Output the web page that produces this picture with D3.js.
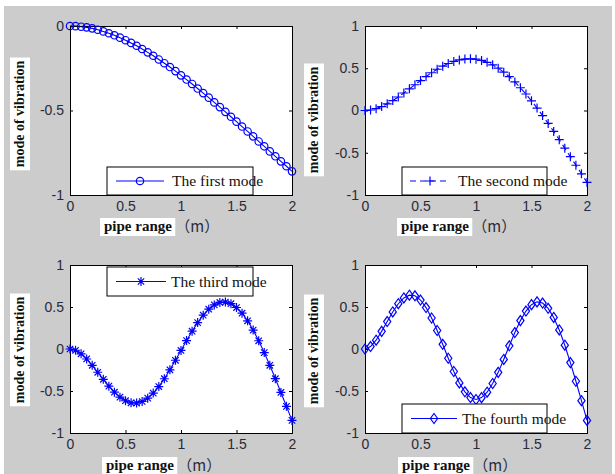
<!DOCTYPE html>
<html>
<head>
<meta charset="utf-8">
<script src="https://cdn.jsdelivr.net/npm/d3@7"></script>
<style>
body { margin: 0; background: #fff; }
</style>
</head>
<body>
<div id="chart"></div>
<script>
// pipe positions (m)
let xs = [0, 0.05, 0.1, 0.15, 0.2, 0.25, 0.3, 0.35, 0.4, 0.45, 0.5, 0.55, 0.6, 0.65, 0.7, 0.75, 0.8, 0.85, 0.9, 0.95,
    1, 1.05, 1.1, 1.15, 1.2, 1.25, 1.3, 1.35, 1.4, 1.45, 1.5, 1.55, 1.6, 1.65, 1.7, 1.75, 1.8, 1.85, 1.9, 1.95, 2];

// mode shapes
let mode1 = [0, -0.001, -0.004, -0.008, -0.014, -0.022, -0.032, -0.043, -0.055, -0.069, -0.084, -0.100, -0.117, -0.136,
    -0.156, -0.176, -0.198, -0.220, -0.243, -0.267, -0.292, -0.317, -0.343, -0.370, -0.397, -0.424, -0.452, -0.480,
    -0.508, -0.537, -0.566, -0.595, -0.624, -0.653, -0.683, -0.712, -0.742, -0.771, -0.801, -0.830, -0.860];
let mode2 = [0, 0.006, 0.022, 0.046, 0.079, 0.117, 0.160, 0.207, 0.256, 0.305, 0.354, 0.402, 0.447, 0.488, 0.525,
    0.556, 0.581, 0.599, 0.609, 0.612, 0.607, 0.593, 0.570, 0.540, 0.501, 0.454, 0.400, 0.338, 0.269, 0.195, 0.114,
    0.029, -0.060, -0.153, -0.248, -0.345, -0.446, -0.547, -0.648, -0.749, -0.851];
let mode3 = [0, -0.015, -0.057, -0.119, -0.194, -0.277, -0.361, -0.442, -0.514, -0.573, -0.616, -0.640, -0.643, -0.625,
    -0.585, -0.525, -0.447, -0.354, -0.248, -0.134, -0.017, 0.100, 0.212, 0.314, 0.403, 0.474, 0.525, 0.554, 0.559,
    0.539, 0.494, 0.426, 0.336, 0.225, 0.098, -0.043, -0.194, -0.353, -0.517, -0.683, -0.850];
let mode4 = [0, 0.029, 0.105, 0.210, 0.327, 0.441, 0.539, 0.608, 0.641, 0.633, 0.583, 0.493, 0.369, 0.220, 0.056,
    -0.110, -0.268, -0.404, -0.510, -0.578, -0.601, -0.579, -0.514, -0.411, -0.278, -0.124, 0.038, 0.196, 0.338,
    0.452, 0.528, 0.561, 0.547, 0.484, 0.376, 0.227, 0.045, -0.162, -0.384, -0.615, -0.850];

let xTicks = [0, 0.5, 1, 1.5, 2];
let yTicksFirst = [-1, -0.5, 0];
let yTicks = [-1, -0.5, 0, 0.5, 1];
let legendNames = ['The first mode', 'The second mode', 'The third mode', 'The fourth mode'];
let yTitle = 'mode of vibration';
let xTitle = 'pipe range';
let xUnit = '（m）';

let blue = '#0000ff';
let svg = d3.select('#chart').append('svg')
    .attr('width', 615)
    .attr('height', 474);

svg.append('rect').attr('x', 4).attr('y', 6).attr('width', 608).attr('height', 468).attr('fill', '#cccccc');

let panels = [
    { data: mode1, name: legendNames[0], marker: 'circle', dash: null, ydom: [-1, 0], yt: yTicksFirst,
      box: { l: 70, r: 292, t: 26, b: 195 }, leg: { x: 107, y: 167, w: 146, h: 28, l1: 116, l2: 164, tx: 172 },
      yl: { x: 20, y: 114 }, xl: { x: 104, y: 231 } },
    { data: mode2, name: legendNames[1], marker: 'plus', dash: '6,4', ydom: [-1, 1], yt: yTicks,
      box: { l: 365, r: 587, t: 26, b: 195 }, leg: { x: 402, y: 167, w: 145, h: 28, l1: 410, l2: 450, tx: 458 },
      yl: { x: 314, y: 120 }, xl: { x: 401, y: 231 } },
    { data: mode3, name: legendNames[2], marker: 'star', dash: null, ydom: [-1, 1], yt: yTicks,
      box: { l: 70, r: 292, t: 265, b: 433 }, leg: { x: 107, y: 267, w: 146, h: 29, l1: 116, l2: 166, tx: 171 },
      yl: { x: 20, y: 350 }, xl: { x: 106, y: 470 } },
    { data: mode4, name: legendNames[3], marker: 'diamond', dash: null, ydom: [-1, 1], yt: yTicks,
      box: { l: 365, r: 587, t: 265, b: 433 }, leg: { x: 402, y: 404, w: 145, h: 29, l1: 411, l2: 457, tx: 462 },
      yl: { x: 314, y: 351 }, xl: { x: 402, y: 470 } }
];

function drawMarker(g, type, cx, cy) {
    if (type === 'circle') {
        g.append('circle').attr('cx', cx).attr('cy', cy).attr('r', 3.7)
            .attr('fill', 'none').attr('stroke', blue).attr('stroke-width', 1.2);
        return;
    }
    let p = '';
    if (type === 'plus') {
        p = 'M' + (cx - 4.5) + ',' + cy + 'H' + (cx + 4.5) + 'M' + cx + ',' + (cy - 4.5) + 'V' + (cy + 4.5);
    } else if (type === 'star') {
        let s = 4.5, k = 3.2;
        p = 'M' + (cx - s) + ',' + cy + 'H' + (cx + s) + 'M' + cx + ',' + (cy - s) + 'V' + (cy + s)
            + 'M' + (cx - k) + ',' + (cy - k) + 'L' + (cx + k) + ',' + (cy + k)
            + 'M' + (cx - k) + ',' + (cy + k) + 'L' + (cx + k) + ',' + (cy - k);
    } else if (type === 'diamond') {
        p = 'M' + cx + ',' + (cy - 5) + 'L' + (cx + 3.6) + ',' + cy + 'L' + cx + ',' + (cy + 5)
            + 'L' + (cx - 3.6) + ',' + cy + 'Z';
    }
    g.append('path').attr('d', p).attr('fill', 'none').attr('stroke', blue).attr('stroke-width', 1.2);
}

// MATLAB prints a plain hyphen for negatives
let tickText = function (d) { return String(d); };

panels.forEach(function (pn) {
    let x = d3.scaleLinear().domain([0, 2]).range([pn.box.l, pn.box.r]);
    let y = d3.scaleLinear().domain(pn.ydom).range([pn.box.b, pn.box.t]);
    let g = svg.append('g');

    g.append('rect')
        .attr('x', pn.box.l).attr('y', pn.box.t)
        .attr('width', pn.box.r - pn.box.l).attr('height', pn.box.b - pn.box.t)
        .attr('fill', '#fff');

    // curve
    let pts = xs.map(function (v, i) { return [v, pn.data[i]]; });
    let line = d3.line().x(function (d) { return x(d[0]); }).y(function (d) { return y(d[1]); });
    g.append('path').datum(pts)
        .attr('d', line)
        .attr('fill', 'none')
        .attr('stroke', blue)
        .attr('stroke-width', 1.1)
        .attr('stroke-dasharray', pn.dash);

    // axes, MATLAB style ticks inside on all sides
    let fontAx = 'Arial, "Liberation Sans", sans-serif';
    let axB = g.append('g').attr('transform', 'translate(0,' + pn.box.b + ')')
        .call(d3.axisBottom(x).tickValues(xTicks).tickSize(-3).tickPadding(6).tickFormat(tickText));
    let axT = g.append('g').attr('transform', 'translate(0,' + pn.box.t + ')')
        .call(d3.axisTop(x).tickValues(xTicks).tickSize(-3).tickFormat(''));
    let axL = g.append('g').attr('transform', 'translate(' + pn.box.l + ',0)')
        .call(d3.axisLeft(y).tickValues(pn.yt).tickSize(-3).tickPadding(6).tickFormat(tickText));
    let axR = g.append('g').attr('transform', 'translate(' + pn.box.r + ',0)')
        .call(d3.axisRight(y).tickValues(pn.yt).tickSize(-3).tickFormat(''));
    [axB, axT, axL, axR].forEach(function (a) {
        a.select('.domain').attr('stroke', '#000');
        a.selectAll('.tick line').attr('stroke', '#000');
        a.selectAll('text').attr('font-family', fontAx).attr('font-size', 14).attr('fill', '#2a2a3a');
    });

    // markers
    pts.forEach(function (d) { drawMarker(g, pn.marker, x(d[0]), y(d[1])); });

    // legend
    let lg = g.append('g');
    lg.append('rect').attr('x', pn.leg.x).attr('y', pn.leg.y).attr('width', pn.leg.w).attr('height', pn.leg.h)
        .attr('fill', '#fff').attr('stroke', '#000').attr('stroke-width', 1);
    let ly = pn.leg.y + pn.leg.h / 2;
    lg.append('line').attr('x1', pn.leg.l1).attr('x2', pn.leg.l2).attr('y1', ly).attr('y2', ly)
        .attr('stroke', blue).attr('stroke-width', 1.1).attr('stroke-dasharray', pn.dash);
    drawMarker(lg, pn.marker, (pn.leg.l1 + pn.leg.l2) / 2, ly);
    lg.append('text').attr('x', pn.leg.tx).attr('y', ly + 5)
        .attr('font-family', '"Liberation Serif", "Times New Roman", serif').attr('font-size', 15.5)
        .attr('fill', '#111').text(pn.name);

    // y title on a white label
    let yg = g.append('g').attr('transform', 'translate(' + pn.yl.x + ',' + pn.yl.y + ') rotate(-90)');
    let yr = yg.append('rect').attr('fill', '#fff');
    let yt = yg.append('text').attr('text-anchor', 'middle').attr('dy', '0.32em')
        .attr('font-family', '"Liberation Serif", "Times New Roman", serif').attr('font-weight', 'bold')
        .attr('font-size', 14).attr('fill', '#111').text(yTitle);
    let yb = yt.node().getBBox();
    yr.attr('x', yb.x - 3).attr('y', -10).attr('width', yb.width + 6).attr('height', 20);

    // x title
    let xt = g.append('text').attr('x', pn.xl.x).attr('y', pn.xl.y)
        .attr('font-family', '"Liberation Serif", "Times New Roman", serif').attr('font-weight', 'bold')
        .attr('font-size', 15).attr('fill', '#111').text(xTitle);
    let xb = xt.node().getBBox();
    g.insert('rect', function () { return xt.node(); })
        .attr('x', xb.x - 4).attr('y', pn.xl.y - 13).attr('width', xb.width + 7).attr('height', 18)
        .attr('fill', '#fff');
    g.append('text').attr('x', xb.x + xb.width + 3).attr('y', pn.xl.y + 1)
        .attr('font-family', '"Noto Sans CJK SC", sans-serif').attr('font-size', 15)
        .attr('fill', '#2a2a3a').text(xUnit);
});
</script>
</body>
</html>
